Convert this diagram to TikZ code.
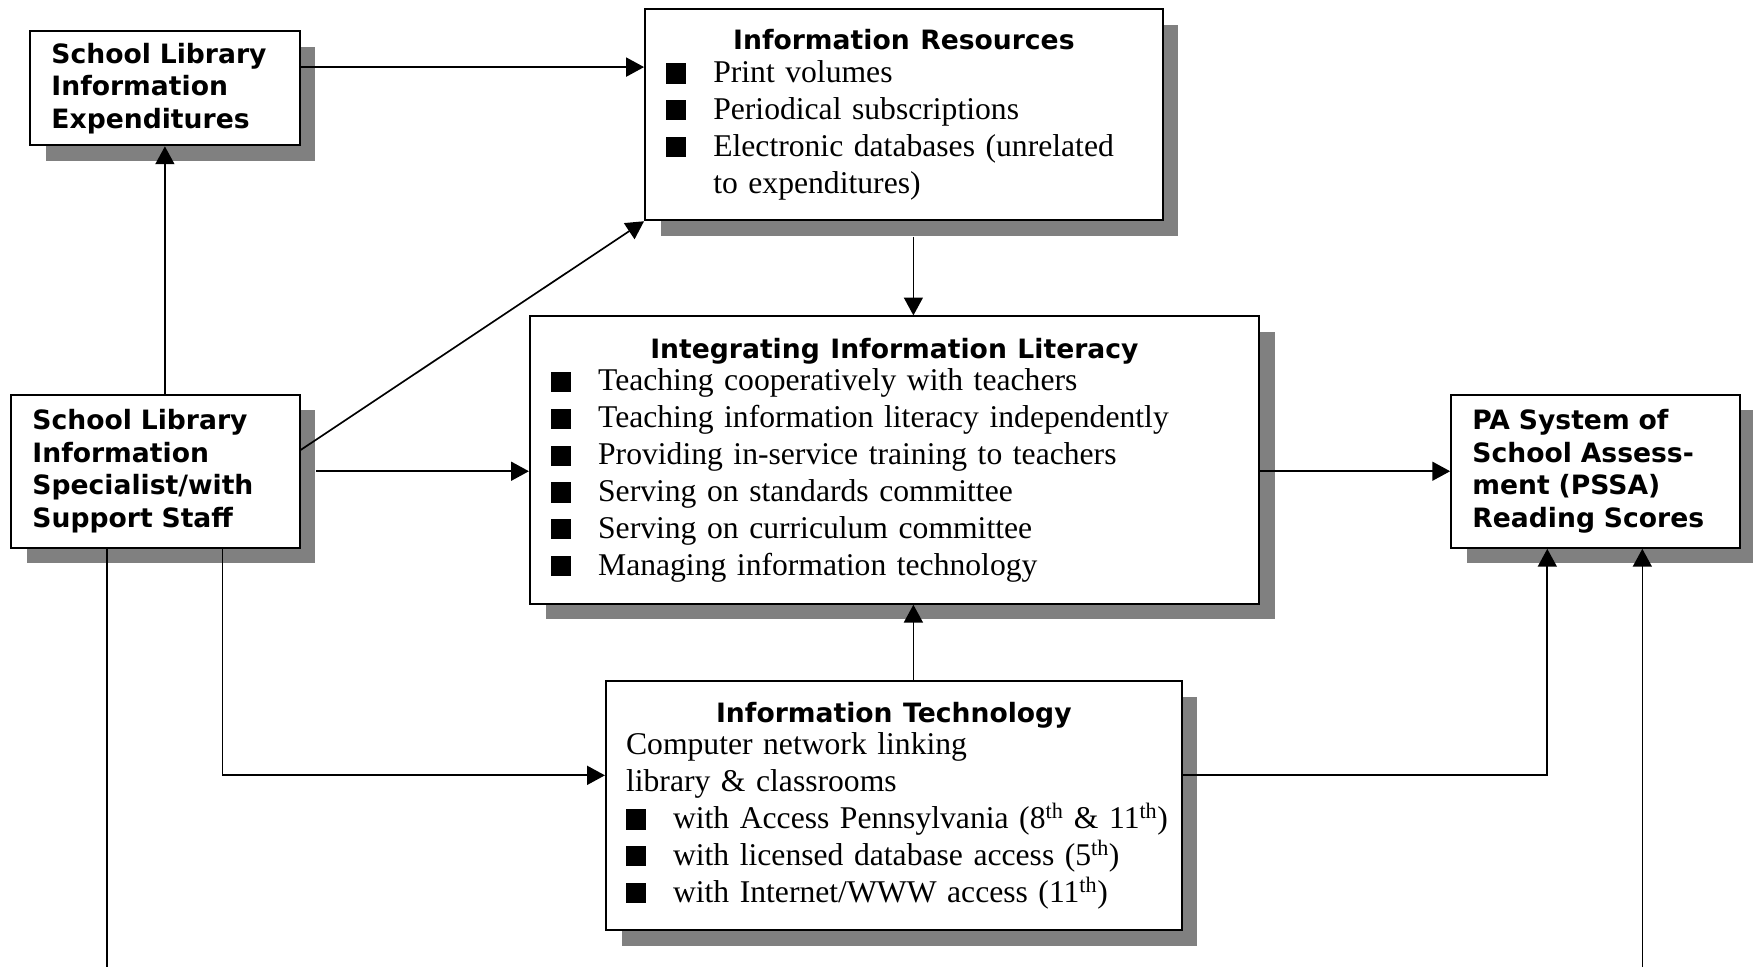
\documentclass[tikz,border=0pt]{standalone}
\usepackage{fontspec}
\setmainfont{Liberation Serif}
\newfontfamily\headfont{DejaVu Sans}
\usetikzlibrary{arrows.meta,shadows}

\newcommand\hd{\headfont\bfseries\fontsize{23.8}{29}\selectfont}
\newcommand\bodyfont{\fontsize{28.3}{33}\selectfont}
\newcommand\sq{\makebox[42pt][l]{\rule[-1pt]{18pt}{18pt}}}

\begin{document}
\begin{tikzpicture}[x=1pt,y=-1pt,
        infobox/.style={draw,line width=1.8pt,fill=white,align=left,inner xsep=19pt,inner ysep=0pt,
                drop shadow={shadow xshift=14pt,shadow yshift=-14pt,fill=gray,opacity=1}},
        flow/.style={line width=1.5pt,-{Triangle[length=16pt,width=17pt]}},
        plain/.style={line width=1.5pt}]
                    \useasboundingbox (0,0) rectangle (1568,865);

                    \node[infobox,font=\hd,text width=203pt,minimum height=102pt] (exp) at (147.5,79)
                        {School Library\\Information\\Expenditures};
                    \node[infobox,font=\hd,text width=220pt,minimum height=137pt] (staff) at (139,421.5)
                        {School Library\\Information\\Specialist/with\\Support Staff};
                    \node[infobox,font=\hd,text width=220pt,minimum height=137pt] (pssa) at (1427,421.5)
                        {PA System of\\School Assess-\\ment (PSSA)\\Reading Scores};

                    \node[infobox,font=\bodyfont,text width=425pt,minimum height=189pt] (res) at (808.5,102.5)
                        {\makebox[\hsize]{\hd Information Resources}\\[-3.5pt]
                         \sq Print volumes\\
                         \sq Periodical subscriptions\\
                         \sq Electronic databases (unrelated\\
                         \hspace*{42pt}to expenditures)};
                    \node[infobox,font=\bodyfont,text width=614pt,minimum height=257pt] (lit) at (800,411.5)
                        {\makebox[\hsize]{\hd Integrating Information Literacy}\\[-4pt]
                         \sq Teaching cooperatively with teachers\\
                         \sq Teaching information literacy independently\\
                         \sq Providing in-service training to teachers\\
                         \sq Serving on standards committee\\
                         \sq Serving on curriculum committee\\
                         \sq Managing information technology};
                    \node[infobox,font=\bodyfont,inner xsep=18pt,text width=479pt,minimum height=223pt] (tech) at (799.5,720.5)
                        {\makebox[\hsize]{\hd Information Technology}\\[-4pt]
                         Computer network linking\\
                         library \& classrooms\\
                         \sq\mbox{with Access Pennsylvania (8\textsuperscript{th} \& 11\textsuperscript{th})}\\
                         \sq with licensed database access (5\textsuperscript{th})\\
                         \sq with Internet/WWW access (11\textsuperscript{th})};

                    \coordinate (itx) at (817,0);
                    \coordinate (pageS) at (0,865);

                    \draw[flow] ([yshift=19pt]exp.east) -- ([yshift=19pt]exp.east -| res.west);
                    \draw[flow] (staff.north -| exp.south) -- (exp.south);
                    \draw[flow] ([yshift=19pt]staff.east) -- (res.south west);
                    \draw[flow] ([xshift=14pt]staff.east) -- (staff.east -| lit.west);
                    \draw[flow] ([yshift=-14pt]res.south -| itx) -- (lit.north -| itx);
                    \draw[flow] (lit.east |- pssa.west) -- (pssa.west);
                    \draw[flow] (tech.north -| itx) -- (lit.south -| itx);
                    \draw[flow] ([xshift=60pt]staff.south) |- ([yshift=27pt]tech.west);
                    \draw[flow] ([yshift=27pt]tech.east) -| ([xshift=-43pt]pssa.south);
                    \draw[plain] ([xshift=-43pt]staff.south) -- ([xshift=-43pt]staff.south |- pageS);
                    \draw[flow] ([xshift=42pt]pssa.south |- pageS) -- ([xshift=42pt]pssa.south);
                \end{tikzpicture}
\end{document}
